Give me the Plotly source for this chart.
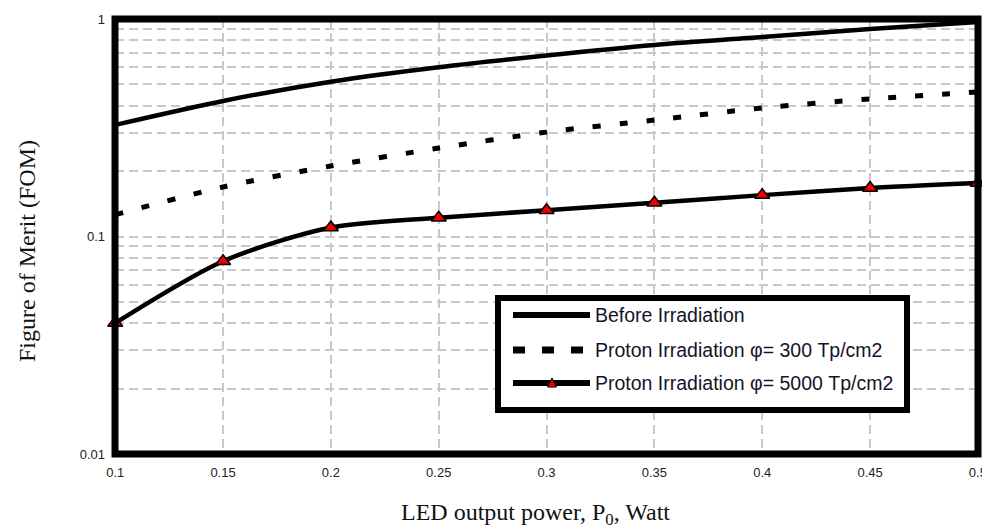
import numpy as np
import plotly.graph_objects as go

# ---------------- data ----------------
power = [0.1, 0.15, 0.2, 0.25, 0.3, 0.35, 0.4, 0.45, 0.5]
fom_before = [0.326, 0.42, 0.515, 0.60, 0.68, 0.76, 0.826, 0.90, 0.97]
fom_300 = [0.126, 0.169, 0.211, 0.255, 0.302, 0.343, 0.39, 0.429, 0.462]
fom_5000 = [0.040, 0.077, 0.110, 0.122, 0.132, 0.143, 0.155, 0.167, 0.176]
names = ["Before Irradiation",
         "Proton Irradiation \u03c6= 300 Tp/cm2",
         "Proton Irradiation \u03c6= 5000 Tp/cm2"]
x_ticks = [0.1, 0.15, 0.2, 0.25, 0.3, 0.35, 0.4, 0.45, 0.5]
y_tick_vals = [m * 10.0 ** e for e in (-2, -1) for m in range(1, 10)] + [1.0]
y_tick_text = ["0.01" if v == 0.01 else "0.1" if abs(v - 0.1) < 1e-12 else "1" if v == 1.0 else " "
               for v in y_tick_vals]

# ---------------- layout geometry (pixels) ----------------
W, H = 982, 531
L, R, T, B = 115, 4, 19, 77
PW, PH = W - L - R, H - T - B


def px(x):
    return (x - L) / PW


def py(y):
    return (H - B - y) / PH


SERIF = "Times New Roman, Liberation Serif, serif"
SANS = "Arial, Liberation Sans, sans-serif"

fig = go.Figure()
fig.add_trace(go.Scatter(x=power, y=fom_before, mode="lines", name=names[0],
                         line=dict(color="black", width=4.5, shape="spline", smoothing=0.8),
                         showlegend=False))
fig.add_trace(go.Scatter(x=power, y=fom_300, mode="lines", name=names[1],
                         line=dict(color="black", width=5, dash="8px,19px", shape="spline", smoothing=0.8),
                         showlegend=False))
fig.add_trace(go.Scatter(x=power, y=fom_5000, mode="lines+markers", name=names[2],
                         line=dict(color="black", width=4.5, shape="spline", smoothing=0.8),
                         marker=dict(symbol="triangle-up", size=13, color="#ee0000",
                                     line=dict(color="black", width=1.5)),
                         showlegend=False, cliponaxis=False))

grid = dict(showgrid=True, gridcolor="#c8c8c8", gridwidth=1.5, griddash="9px,5px",
            zeroline=False, showline=False, ticks="", automargin=False,
            ticklabeloverflow="allow")

fig.update_xaxes(range=[0.0999, 0.50005], tickvals=x_ticks, ticktext=[f"{v:g}" for v in x_ticks],
                 tickfont=dict(family=SANS, size=13, color="#222"), ticklabelstandoff=9, **grid)
fig.update_yaxes(type="log", range=[-2, 0.0001], tickvals=y_tick_vals, ticktext=y_tick_text,
                 tickfont=dict(family=SANS, size=13, color="#222"), ticklabelstandoff=9, **grid)

shapes = []
# thick plot border
shapes.append(dict(type="rect", xref="paper", yref="paper", x0=0, x1=1, y0=0, y1=1,
                   line=dict(color="black", width=7), layer="above"))
# legend box
shapes.append(dict(type="rect", xref="paper", yref="paper", x0=px(498), x1=px(907),
                   y0=py(410), y1=py(298), line=dict(color="black", width=6),
                   fillcolor="white", layer="above"))
rows = [315, 350, 383]
shapes.append(dict(type="line", xref="paper", yref="paper", x0=px(513), x1=px(590),
                   y0=py(rows[0]), y1=py(rows[0]), line=dict(color="black", width=6), layer="above"))
shapes.append(dict(type="line", xref="paper", yref="paper", x0=px(513), x1=px(590),
                   y0=py(rows[1]), y1=py(rows[1]), line=dict(color="black", width=7, dash="12px,17px"),
                   layer="above"))
shapes.append(dict(type="line", xref="paper", yref="paper", x0=px(513), x1=px(590),
                   y0=py(rows[2]), y1=py(rows[2]), line=dict(color="black", width=6), layer="above"))
tri = "M {:.5f},{:.5f} L {:.5f},{:.5f} L {:.5f},{:.5f} Z".format(
    px(547.5), py(rows[2] + 4), px(556.5), py(rows[2] + 4), px(552), py(rows[2] - 5))
shapes.append(dict(type="path", xref="paper", yref="paper", path=tri,
                   fillcolor="#ee0000", line=dict(color="black", width=1), layer="above"))

annotations = []
for r, n in zip(rows, names):
    annotations.append(dict(xref="paper", yref="paper", x=px(593), y=py(r), text=n,
                            showarrow=False, xanchor="left", yanchor="middle",
                            font=dict(family=SANS, size=19.5, color="#141428")))
annotations.append(dict(xref="paper", yref="paper", x=px(535), y=py(514),
                        text="LED output power, P<sub>0</sub>, Watt", showarrow=False,
                        xanchor="center", yanchor="middle",
                        font=dict(family=SERIF, size=24, color="#111")))
annotations.append(dict(xref="paper", yref="paper", x=px(27), y=py(251),
                        text="Figure of Merit (FOM)", showarrow=False, textangle=-90,
                        xanchor="center", yanchor="middle",
                        font=dict(family=SERIF, size=24, color="#111")))

fig.update_layout(width=W, height=H, margin=dict(l=L, r=R, t=T, b=B, autoexpand=False),
                  paper_bgcolor="white", plot_bgcolor="white",
                  shapes=shapes, annotations=annotations, showlegend=False)

fig.write_html("out.html")
